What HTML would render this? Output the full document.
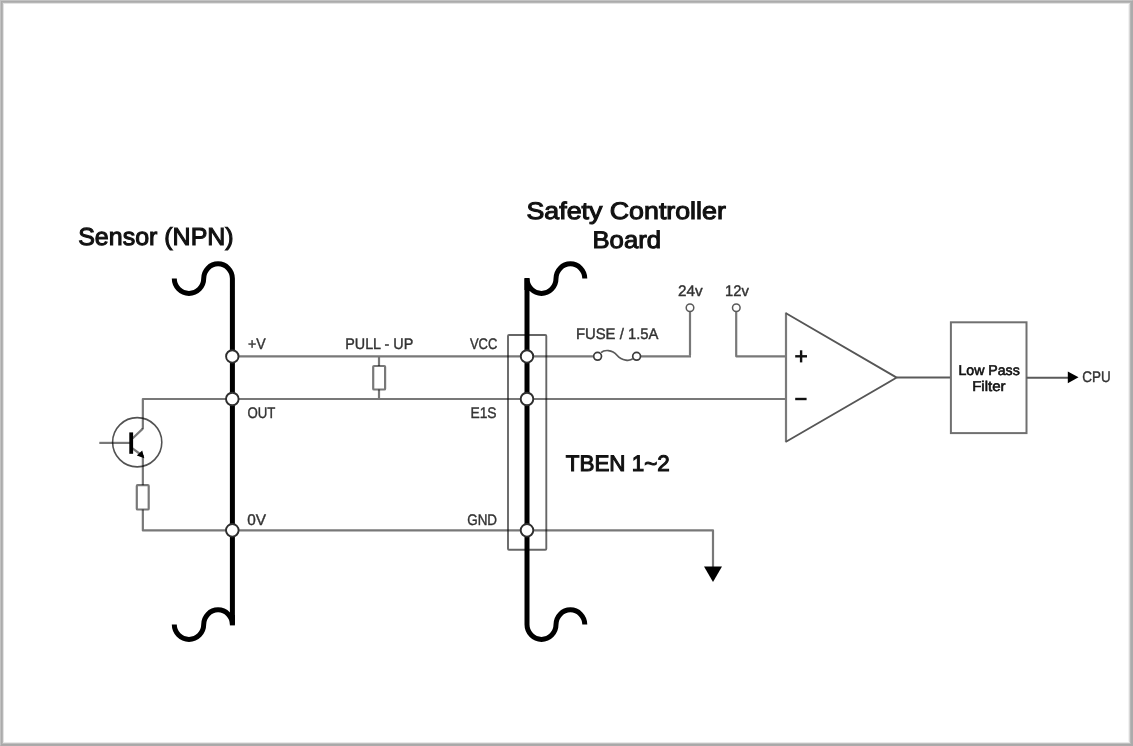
<!DOCTYPE html>
<html>
<head>
<meta charset="utf-8">
<style>
html,body{margin:0;padding:0;background:#fff;}
body{width:1133px;height:746px;overflow:hidden;position:relative;font-family:"Liberation Sans",sans-serif;}
.b{position:absolute;box-sizing:border-box;border:1px solid;}
svg{position:absolute;left:0;top:0;will-change:transform;}
</style>
</head>
<body>
<div class="b" style="left:0;top:0;width:1133px;height:746px;border-color:#c2c2c2 #ababab #ababab #c2c2c2;"></div>
<div class="b" style="left:1px;top:1px;width:1131px;height:744px;border-color:#ababab #ababab #a8a8a8 #ababab;"></div>
<div class="b" style="left:2px;top:2px;width:1129px;height:742px;border-color:#b6b6b6 #b6b6b6 #c0c0c0 #b6b6b6;"></div>
<div class="b" style="left:3px;top:3px;width:1127px;height:740px;border-color:#e3e3e3 #d8d8d8 #e8e8e8 #e3e3e3;"></div>
<div class="b" style="left:4px;top:4px;width:1125px;height:738px;border-color:#fff #f2f2f2 #fff #fff;"></div>
<svg width="1133" height="746" viewBox="0 0 1133 746">
<g fill="none" stroke="#000" stroke-opacity="0.53" stroke-width="2.2" stroke-linejoin="round">
  <!-- +V line -->
  <line x1="232" y1="356.3" x2="593.7" y2="356.3"/>
  <line x1="640.5" y1="356.3" x2="691" y2="356.3"/>
  <line x1="690" y1="311.8" x2="690" y2="355.3"/>
  <polyline points="736.2,311.8 736.2,356.3 786,356.3"/>
  <!-- OUT line -->
  <polyline points="142.85,429 142.85,399 786,399"/>
  <!-- 0V line -->
  <polyline points="142.85,509.5 142.85,530.4 713,530.4 713,567"/>
  <line x1="142.85" y1="455" x2="142.85" y2="485.2"/>
  <!-- pull-up resistor -->
  <line x1="379" y1="357.3" x2="379" y2="366"/>
  <line x1="379" y1="389.5" x2="379" y2="398"/>
  <rect x="373.2" y="366" width="11.9" height="23.5" rx="0.8"/>
  <!-- sensor resistor -->
  <rect x="136.8" y="485.2" width="11.9" height="24.3" rx="0.8"/>
  <!-- transistor -->
  <line x1="99.3" y1="442.9" x2="131" y2="442.9"/>
  <polyline points="142.85,428.6 132.5,438.5"/>
  <polyline points="132.5,448.4 140,454"/>
</g>
<g fill="none" stroke="#000" stroke-opacity="0.6" stroke-width="1.9">
  <!-- TBEN box -->
  <rect x="508" y="335" width="38.3" height="214.7" rx="1"/>
</g>
<g fill="none" stroke="#5a5a5a" stroke-width="1.8">
  <circle cx="137.2" cy="442.25" r="24.6" stroke="#000" stroke-opacity="0.68" stroke-width="1.6"/>
  <!-- fuse -->
  <circle cx="597.6" cy="356.3" r="3.9" stroke="#3c3c3c" stroke-width="1.7"/>
  <circle cx="636.6" cy="356.3" r="3.9" stroke="#3c3c3c" stroke-width="1.7"/>
  <path d="M601 352.7 C604 349.7 612 349.2 617 355.2 C622 361.2 630 361.2 633 358.7" stroke-width="1.7"/>
  <!-- 24v/12v terminals -->
  <circle cx="690" cy="307.8" r="3.8" stroke-width="1.5"/>
  <circle cx="736.3" cy="307.8" r="3.8" stroke-width="1.5"/>
  <!-- op amp -->
  <line x1="786" y1="312.5" x2="786" y2="442.3" stroke="#7a7a7a" stroke-width="2.2"/>
  <polyline points="786,313.3 896.7,377.6 786,441.8" stroke="#565656" stroke-width="1.8" stroke-linejoin="miter"/>
  <line x1="896.7" y1="377.6" x2="950.5" y2="377.6" stroke-width="2"/>
  <!-- LPF -->
  <rect x="950.9" y="322.3" width="75.6" height="110.8" stroke="#707070" stroke-width="2"/>
  <line x1="1026.5" y1="377.8" x2="1069" y2="377.8" stroke-width="2"/>
</g>
<!-- thick board lines -->
<g fill="none" stroke="#000" stroke-width="5">
  <path d="M174.3 278.6 A14.7 14.8 0 0 0 203.7 278.6 A14.35 14.8 0 0 1 232.4 278.6 L232.4 624.6 A14.35 14.8 0 0 0 203.7 624.6 A14.7 14.8 0 0 1 174.3 624.6"/>
  <line x1="232.4" y1="615" x2="232.4" y2="625.4"/>
  <path d="M584.8 278.6 A14.4 14.8 0 0 0 556 278.6 A14.5 14.8 0 0 1 527 278.6 L527 624.6 A14.5 14.8 0 0 0 556 624.6 A14.4 14.8 0 0 1 584.8 624.6"/>
  <line x1="527" y1="278" x2="527" y2="290"/>
</g>
<!-- nodes -->
<g fill="#fff" stroke="#2e2e2e" stroke-width="1.9">
  <circle cx="232.3" cy="356.4" r="6.2"/>
  <circle cx="232.3" cy="399" r="6.3"/>
  <circle cx="232.3" cy="530.3" r="6.3"/>
  <circle cx="527" cy="356.4" r="6.2"/>
  <circle cx="527" cy="399" r="6.3"/>
  <circle cx="527" cy="530.3" r="6.3"/>
</g>
<!-- filled shapes -->
<g fill="#000" stroke="none">
  <rect x="129.3" y="432.4" width="3.8" height="21.4"/>
  <polygon points="144.3,458.2 136.8,455.6 142.2,450.6"/>
  <polygon points="704,566.5 722,566.5 713,582"/>
  <polygon points="1067.8,371.4 1067.8,383.3 1078.5,377.3"/>
</g>
<!-- op-amp signs -->
<g stroke="#111" stroke-width="2.4" fill="none">
  <line x1="795.2" y1="356.3" x2="807" y2="356.3"/>
  <line x1="801.1" y1="350.3" x2="801.1" y2="362.4"/>
  <line x1="795.2" y1="399" x2="806.6" y2="399"/>
</g>
<!-- text -->
<g font-family="Liberation Sans, sans-serif" fill="#111" stroke="#111" stroke-width="1.05" text-rendering="geometricPrecision">
  <text x="78.2" y="245.2" font-size="24.5" textLength="155.5" lengthAdjust="spacingAndGlyphs">Sensor (NPN)</text>
  <text x="526.5" y="219.1" font-size="24" textLength="199.3" lengthAdjust="spacingAndGlyphs">Safety Controller</text>
  <text x="592.5" y="248.3" font-size="24" textLength="68.5" lengthAdjust="spacingAndGlyphs">Board</text>
  <text x="565.8" y="470.6" font-size="22.5" textLength="104" lengthAdjust="spacingAndGlyphs">TBEN 1~2</text>
</g>
<g font-family="Liberation Sans, sans-serif" fill="#333" stroke="#333" stroke-width="0.4" font-size="15.3" text-rendering="geometricPrecision">
  <text x="248" y="348.7" textLength="17.7" lengthAdjust="spacingAndGlyphs">+V</text>
  <text x="247.5" y="417.7" textLength="27.9" lengthAdjust="spacingAndGlyphs">OUT</text>
  <text x="247.2" y="525.1" textLength="18.8" lengthAdjust="spacingAndGlyphs">0V</text>
  <text x="345.2" y="348.7" textLength="68.1" lengthAdjust="spacingAndGlyphs">PULL - UP</text>
  <text x="470" y="348.7" textLength="27.3" lengthAdjust="spacingAndGlyphs">VCC</text>
  <text x="470.4" y="418.3" textLength="26.2" lengthAdjust="spacingAndGlyphs">E1S</text>
  <text x="467.2" y="525.1" textLength="29.9" lengthAdjust="spacingAndGlyphs">GND</text>
  <text x="575.9" y="338.5" textLength="82.6" lengthAdjust="spacingAndGlyphs">FUSE / 1.5A</text>
  <text x="677.9" y="295.7" textLength="24.7" lengthAdjust="spacingAndGlyphs">24v</text>
  <text x="725" y="295.7" textLength="23.9" lengthAdjust="spacingAndGlyphs">12v</text>
  <text x="1082.3" y="381.8" textLength="28.4" lengthAdjust="spacingAndGlyphs">CPU</text>
</g>
<g font-family="Liberation Sans, sans-serif" fill="#111" stroke="#111" stroke-width="0.6" font-size="14.2" text-rendering="geometricPrecision">
  <text x="958.4" y="374.5" textLength="61.4" lengthAdjust="spacingAndGlyphs">Low Pass</text>
  <text x="972.2" y="391.2" textLength="33.4" lengthAdjust="spacingAndGlyphs">Filter</text>
</g>
</svg>
</body>
</html>
